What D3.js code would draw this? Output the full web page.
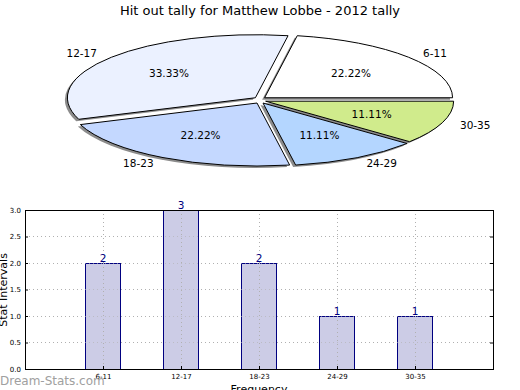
<!DOCTYPE html>
<html>
<head>
<meta charset="utf-8">
<script src="https://cdn.jsdelivr.net/npm/d3@7"></script>
<style>
  body { margin: 0; background: #fff; }
  svg { display: block; font-family: "DejaVu Sans", sans-serif; }
  .crisp { shape-rendering: crispEdges; }
</style>
</head>
<body>
<script>
var categories = ["6-11", "12-17", "18-23", "24-29", "30-35"];
var tally = [2, 3, 2, 1, 1];
var sliceColors = ["#ffffff", "#ebf1ff", "#c4d8ff", "#b4d6ff", "#d0eb8c"];
var yTicks = [0, 0.5, 1, 1.5, 2, 2.5, 3];

var width = 520, height = 390;

var svg = d3.select("body").append("svg")
  .attr("width", width)
  .attr("height", height);

svg.append("text")
  .attr("x", 260).attr("y", 15)
  .attr("text-anchor", "middle")
  .style("font-size", "13px")
  .text("Hit out tally for Matthew Lobbe - 2012 tally");

// ---- pie (squashed, exploded, with shadow) ----
var cx = 260, cy = 100, rx = 188, ry = 63;
var expX = 6, expY = 3.5;

var total = d3.sum(tally);
var pie = d3.pie().sort(null)
  .startAngle(Math.PI / 2)
  .endAngle(Math.PI / 2 - 2 * Math.PI);
var slices = pie(tally);

var arc = d3.arc().innerRadius(0).outerRadius(rx);

// math angle (ccw from east) of the slice middle
function midAngle(d) {
  return Math.PI / 2 - (d.startAngle + d.endAngle) / 2;
}
function sliceCenter(d) {
  var a = midAngle(d);
  return [cx + expX * Math.cos(a), cy - expY * Math.sin(a)];
}

var pieG = svg.append("g");

// shadows
pieG.selectAll("path.shadow").data(slices).enter()
  .append("path")
  .attr("class", "shadow")
  .attr("transform", function (d) {
    var c = sliceCenter(d);
    return "translate(" + (c[0] - 2.5) + "," + (c[1] + 2) + ") scale(1," + (ry / rx) + ")";
  })
  .attr("d", arc)
  .style("fill", "#8c8c8c");

pieG.selectAll("path.slice").data(slices).enter()
  .append("path")
  .attr("class", "slice")
  .attr("transform", function (d) {
    var c = sliceCenter(d);
    return "translate(" + c[0] + "," + c[1] + ") scale(1," + (ry / rx) + ")";
  })
  .attr("d", arc)
  .style("fill", function (d, i) { return sliceColors[i]; })
  .style("stroke", "#000")
  .style("stroke-width", 1)
  .attr("vector-effect", "non-scaling-stroke");

// category labels
pieG.selectAll("text.lab").data(slices).enter()
  .append("text")
  .attr("class", "lab")
  .attr("x", function (d) {
    return sliceCenter(d)[0] + 1.1 * rx * Math.cos(midAngle(d));
  })
  .attr("y", function (d) {
    return sliceCenter(d)[1] - 1.1 * ry * Math.sin(midAngle(d));
  })
  .attr("dy", "0.35em")
  .attr("text-anchor", function (d) {
    return Math.cos(midAngle(d)) > 0 ? "start" : "end";
  })
  .style("font-size", "10.5px")
  .text(function (d, i) { return categories[i]; });

// percentages
pieG.selectAll("text.pct").data(slices).enter()
  .append("text")
  .attr("class", "pct")
  .attr("x", function (d) {
    return sliceCenter(d)[0] + 0.6 * rx * Math.cos(midAngle(d));
  })
  .attr("y", function (d) {
    return sliceCenter(d)[1] - 0.6 * ry * Math.sin(midAngle(d));
  })
  .attr("dy", "0.35em")
  .attr("text-anchor", "middle")
  .style("font-size", "10.5px")
  .text(function (d) { return (d.value / total * 100).toFixed(2) + "%"; });

// ---- bar chart ----
var axL = 25, axR = 493, axT = 210, axB = 369;

var x = d3.scaleLinear().domain([0, 6]).range([axL, axR]);
var y = d3.scaleLinear().domain([0, 3]).range([axB, axT]);
var barW = x(0.46) - x(0);

var barG = svg.append("g");

// grid
barG.selectAll("line.gy").data(yTicks).enter()
  .append("line")
  .attr("class", "crisp")
  .attr("x1", axL).attr("x2", axR)
  .attr("y1", function (d) { return y(d); })
  .attr("y2", function (d) { return y(d); })
  .style("stroke", "#b0b0b0")
  .style("stroke-dasharray", "1,3");

barG.selectAll("line.gx").data(categories).enter()
  .append("line")
  .attr("class", "crisp")
  .attr("x1", function (d, i) { return x(i + 1); })
  .attr("x2", function (d, i) { return x(i + 1); })
  .attr("y1", axT).attr("y2", axB)
  .style("stroke", "#b0b0b0")
  .style("stroke-dasharray", "1,3");

barG.selectAll("rect").data(tally).enter()
  .append("rect")
  .attr("class", "crisp")
  .attr("x", function (d, i) { return x(i + 1) - barW / 2; })
  .attr("y", function (d) { return y(d); })
  .attr("width", barW)
  .attr("height", function (d) { return y(0) - y(d); })
  .style("fill", "#cccce6")
  .style("stroke", "#000080")
  .style("stroke-width", 1);

// grid over bars (matplotlib draws it on top)
barG.selectAll("line.gx2").data(categories).enter()
  .append("line")
  .attr("class", "crisp")
  .attr("x1", function (d, i) { return x(i + 1); })
  .attr("x2", function (d, i) { return x(i + 1); })
  .attr("y1", function (d, i) { return y(tally[i]); }).attr("y2", axB)
  .style("stroke", "#b0b0b0")
  .style("stroke-dasharray", "1,3");

barG.selectAll("line.gy2").data(yTicks).enter()
  .append("line")
  .attr("class", "crisp")
  .attr("x1", axL).attr("x2", axR)
  .attr("y1", function (d) { return y(d); })
  .attr("y2", function (d) { return y(d); })
  .style("stroke", "#b0b0b0")
  .style("stroke-dasharray", "1,3")
  .style("opacity", 0.6);

barG.selectAll("text.val").data(tally).enter()
  .append("text")
  .attr("x", function (d, i) { return x(i + 1); })
  .attr("y", function (d) { return y(d) - 1; })
  .attr("text-anchor", "middle")
  .style("font-size", "10.5px")
  .style("fill", "#000080")
  .text(function (d) { return d; });

// frame
barG.append("rect")
  .attr("class", "crisp")
  .attr("x", axL).attr("y", axT)
  .attr("width", axR - axL).attr("height", axB - axT)
  .style("fill", "none")
  .style("stroke", "#000")
  .style("stroke-width", 1);

// axes
var yAxis = d3.axisLeft(y).tickValues(yTicks)
  .tickFormat(d3.format(".1f")).tickSize(-3).tickPadding(4);
var yg = svg.append("g").attr("transform", "translate(" + axL + ",0)").call(yAxis);
var yAxisR = d3.axisRight(y).tickValues(yTicks).tickFormat("").tickSize(-3);
var ygr = svg.append("g").attr("transform", "translate(" + axR + ",0)").call(yAxisR);

var xAxis = d3.axisBottom(x).tickValues([1, 2, 3, 4, 5])
  .tickFormat(function (d) { return categories[d - 1]; })
  .tickSize(-3).tickPadding(5);
var xg = svg.append("g").attr("transform", "translate(0," + axB + ")").call(xAxis);

[yg, ygr, xg].forEach(function (g) {
  g.select(".domain").remove();
  g.selectAll("text").style("font-size", "7px").style("font-family", "DejaVu Sans, sans-serif").attr("fill", "#000");
  g.selectAll("line").attr("stroke", "#000");
});

svg.append("text")
  .attr("transform", "translate(7,290) rotate(-90)")
  .attr("text-anchor", "middle")
  .style("font-size", "11px")
  .text("Stat Intervals");

svg.append("text")
  .attr("x", 259).attr("y", 393)
  .attr("text-anchor", "middle")
  .style("font-size", "11px")
  .text("Frequency");

svg.append("text")
  .attr("x", 0).attr("y", 385)
  .style("font-size", "12px")
  .style("fill", "#a0a0a0")
  .text("Dream-Stats.com");
</script>
</body>
</html>
